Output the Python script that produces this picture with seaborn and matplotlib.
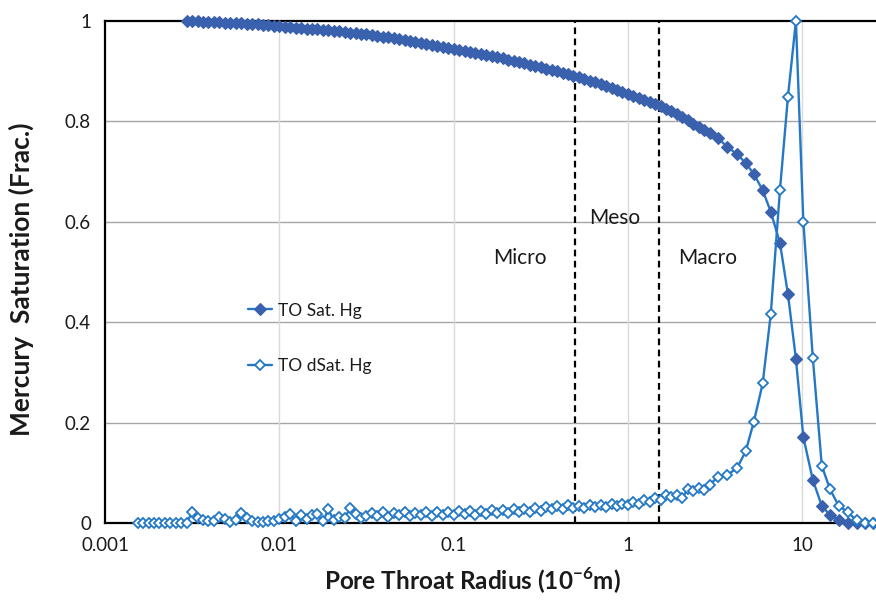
import matplotlib
matplotlib.use("Agg")
import matplotlib.pyplot as plt
import seaborn as sns
from matplotlib.ticker import FixedLocator, NullFormatter

# ---------------- data ----------------
radius_dsat = [
    0.00154, 0.001655, 0.001778, 0.001911, 0.002054, 0.002207, 0.002371, 0.002548, 0.002738,
    0.002943, 0.003162, 0.003398, 0.003652, 0.003924, 0.004217, 0.004532, 0.00487, 0.005233,
    0.005623, 0.006043, 0.006494, 0.006978, 0.007499, 0.008058, 0.00866, 0.009306,
    0.01, 0.01075, 0.01155, 0.01241, 0.01334, 0.01433, 0.0154, 0.01655, 0.01778, 0.01911,
    0.02054, 0.02207, 0.02371, 0.02548, 0.02738, 0.02943, 0.03162, 0.03398, 0.03652, 0.03924,
    0.04217, 0.04532, 0.0487, 0.05233, 0.05623, 0.06043, 0.06494, 0.06978, 0.07499, 0.08058,
    0.0866, 0.09306,
    0.1, 0.1075, 0.1155, 0.1241, 0.1334, 0.1433, 0.154, 0.1655, 0.1778, 0.1911,
    0.2054, 0.2207, 0.2371, 0.2548, 0.2738, 0.2943, 0.3162, 0.3398, 0.3652, 0.3924,
    0.4217, 0.4532, 0.487, 0.5233, 0.5623, 0.6043, 0.6494, 0.6978, 0.7499, 0.8058,
    0.866, 0.9306,
    1.0, 1.075, 1.155, 1.241, 1.334, 1.433, 1.54, 1.655, 1.778, 1.911,
    2.054, 2.207, 2.371, 2.548, 2.738, 2.943,
    3.28, 3.72, 4.22, 4.74, 5.28, 5.93, 6.6, 7.45, 8.28, 9.2,
    10.15, 11.5, 12.95, 14.4, 16.2, 18.2, 20.5, 22.9, 25.5,
]

dsat_hg = [
    0.0, 0.0, 0.0, 0.0, 0.0, 0.0, 0.0, 0.0, 0.0,
    0.0, 0.022, 0.010, 0.006, 0.003, 0.004, 0.012, 0.008, 0.002,
    0.006, 0.019, 0.010, 0.004, 0.002, 0.001, 0.004, 0.003,
    0.008, 0.012, 0.017, 0.004, 0.016, 0.008, 0.015, 0.017, 0.003, 0.027,
    0.005, 0.012, 0.010, 0.029, 0.017, 0.010, 0.014, 0.020, 0.013, 0.022,
    0.012, 0.019, 0.015, 0.022, 0.013, 0.020, 0.016, 0.022, 0.014, 0.021,
    0.015, 0.022,
    0.016, 0.023, 0.017, 0.024, 0.016, 0.023, 0.018, 0.025, 0.020, 0.026,
    0.019, 0.027, 0.021, 0.028, 0.022, 0.030, 0.024, 0.032, 0.027, 0.033,
    0.028, 0.035, 0.029, 0.034, 0.030, 0.036, 0.031, 0.036, 0.032, 0.037,
    0.033, 0.038,
    0.036, 0.042, 0.038, 0.045, 0.041, 0.050, 0.046, 0.056, 0.052, 0.055,
    0.050, 0.068, 0.064, 0.070, 0.066, 0.076,
    0.092, 0.096, 0.109, 0.143, 0.202, 0.278, 0.416, 0.663, 0.849, 1.0,
    0.600, 0.329, 0.114, 0.068, 0.034, 0.022, 0.005, 0.0, 0.0,
]

radius_sat = radius_dsat[9:]

sat_hg = [
    1.000, 1.000, 1.000, 0.999, 0.999, 0.998, 0.998, 0.997, 0.997,
    0.996, 0.996, 0.995, 0.994, 0.994, 0.993, 0.992, 0.991,
    0.990, 0.989, 0.988, 0.987, 0.986, 0.985, 0.985, 0.984, 0.983, 0.982,
    0.981, 0.980, 0.979, 0.977, 0.976, 0.975, 0.974, 0.972, 0.971, 0.969,
    0.968, 0.966, 0.964, 0.963, 0.961, 0.959, 0.957, 0.955, 0.953, 0.951,
    0.949, 0.947,
    0.945, 0.943, 0.941, 0.939, 0.937, 0.935, 0.933, 0.930, 0.928, 0.926,
    0.923, 0.921, 0.918, 0.916, 0.913, 0.911, 0.908, 0.905, 0.903, 0.900,
    0.897, 0.894, 0.891, 0.888, 0.885, 0.881, 0.878, 0.874, 0.870, 0.867,
    0.863, 0.859,
    0.855, 0.851, 0.847, 0.843, 0.839, 0.835, 0.830, 0.825, 0.820, 0.814,
    0.808, 0.802, 0.795, 0.788, 0.782, 0.776,
    0.767, 0.749, 0.735, 0.717, 0.695, 0.663, 0.620, 0.558, 0.456, 0.327,
    0.171, 0.086, 0.034, 0.016, 0.006, 0.0, 0.0, 0.0, 0.0,
]

region_bounds = [0.5, 1.5]
region_labels = ["Micro", "Meso", "Macro"]
region_label_pos = [(0.24, 0.528), (0.84, 0.607), (2.88, 0.528)]
x_ticks = [0.001, 0.01, 0.1, 1, 10]
x_tick_labels = ["0.001", "0.01", "0.1", "1", "10"]
y_ticks = [0, 0.2, 0.4, 0.6, 0.8, 1.0]
y_tick_labels = ["0", "0.2", "0.4", "0.6", "0.8", "1"]

# ---------------- style ----------------
sns.set_style("white")
plt.rcParams["font.family"] = ["Lato", "DejaVu Sans"]
plt.rcParams["mathtext.fontset"] = "custom"
plt.rcParams["mathtext.rm"] = "Lato"
plt.rcParams["mathtext.bf"] = "Lato:bold"

LINE_BLUE = "#2478C6"
MARK_BLUE = "#3A61AD"
TEXT = "#1a1a1a"

fig = plt.figure(figsize=(8.76, 6.06), dpi=100)
ax = fig.add_axes([105 / 876, 83 / 606, 771 / 876, 502 / 606])
ax.set_xscale("log")
ax.set_xlim(0.001, 26.5)
ax.set_ylim(0, 1)

# grid
for yv in [0.2, 0.4, 0.6, 0.8]:
    ax.axhline(yv, color="#A6A6A6", lw=1.0, zorder=0)
for xv in [0.01, 0.1, 1, 10]:
    ax.axvline(xv, color="#DADADA", lw=1.0, zorder=0)

# region boundaries
for xb in region_bounds:
    ax.axvline(xb, color="black", lw=1.6, ls=(0, (3, 2)), zorder=1)

sns.lineplot(x=radius_sat, y=sat_hg, ax=ax, sort=False, estimator=None,
             color=LINE_BLUE, lw=1.7, marker="D", markersize=6.0,
             markerfacecolor=MARK_BLUE, markeredgecolor=MARK_BLUE,
             markeredgewidth=0.8, label="TO Sat. Hg", clip_on=False, zorder=3)
sns.lineplot(x=radius_dsat, y=dsat_hg, ax=ax, sort=False, estimator=None,
             color=LINE_BLUE, lw=1.7, marker="D", markersize=5.6,
             markerfacecolor="white", markeredgecolor=LINE_BLUE,
             markeredgewidth=1.3, label="TO dSat. Hg", clip_on=False, zorder=4)

for lab, (xp, yp) in zip(region_labels, region_label_pos):
    ax.text(xp, yp, lab, fontsize=15, ha="center", va="center", color=TEXT)

# axes / ticks
ax.xaxis.set_major_locator(FixedLocator(x_ticks))
ax.set_xticklabels(x_tick_labels)
minor = [m * d for d in [0.001, 0.01, 0.1, 1, 10] for m in range(2, 10)]
ax.xaxis.set_minor_locator(FixedLocator(minor))
ax.xaxis.set_minor_formatter(NullFormatter())
ax.set_yticks(y_ticks)
ax.set_yticklabels(y_tick_labels)
ax.set_yticks([0.1, 0.3, 0.5, 0.7, 0.9], minor=True)
ax.tick_params(axis="both", which="major", labelsize=13.5, colors="#A0A0A0",
               labelcolor=TEXT, length=6, width=1, direction="out", pad=4)
ax.tick_params(axis="both", which="minor", colors="#A0A0A0", length=4, width=1,
               direction="in")

for side in ["left", "bottom", "top"]:
    ax.spines[side].set_color("black")
    ax.spines[side].set_linewidth(1.6)
ax.spines["right"].set_visible(False)

ax.set_xlabel(r"Pore Throat Radius (10$^{\mathbf{-6}}$m)", fontsize=17.5,
              fontweight="bold", color=TEXT)
ax.set_ylabel("Mercury  Saturation (Frac.)", fontsize=19, fontweight="bold",
              color=TEXT)
ax.xaxis.set_label_coords(0.476, -0.086)
ax.yaxis.set_label_coords(-0.092, 0.485)

leg = ax.legend(loc="center left", bbox_to_anchor=(0.1855, 0.3675), frameon=False,
                fontsize=12.5, handlelength=1.4, handletextpad=0.3,
                labelspacing=2.3, borderpad=0, borderaxespad=0, numpoints=1)
for t in leg.get_texts():
    t.set_color(TEXT)

fig.savefig("out.png", dpi=100)
